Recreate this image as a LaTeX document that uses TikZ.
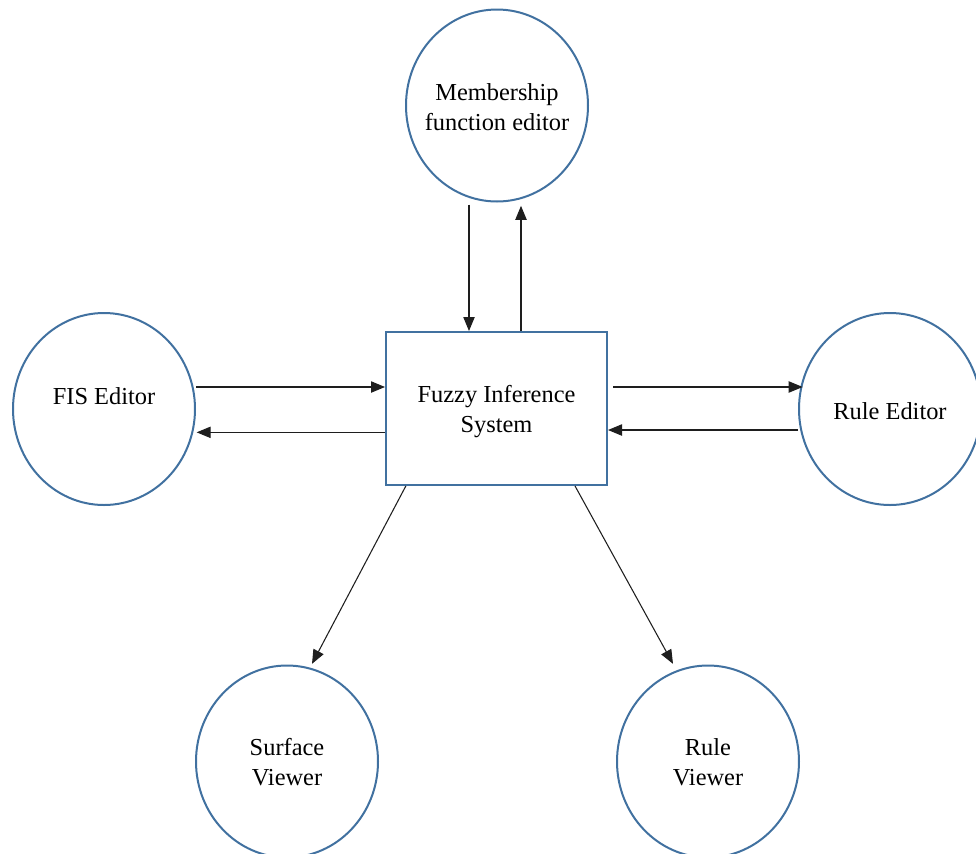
\documentclass[tikz,border=0pt]{standalone}
\usepackage{fontspec}
\setmainfont{Liberation Serif}
\usetikzlibrary{arrows.meta,shapes.geometric}
\definecolor{outline}{RGB}{65,113,160}
\definecolor{wire}{RGB}{30,30,30}
\tikzset{
  unit/.style={ellipse, draw=outline, line width=1.5pt, fill=white,
    minimum width=136.5pt, minimum height=144pt, inner sep=0pt},
  core/.style={rectangle, draw=outline, line width=1.5pt, fill=white,
    minimum width=165.75pt, minimum height=114.75pt, inner sep=0pt},
  lbl/.style={align=center, text=black, font=\fontsize{18.3}{22.5}\selectfont, inner sep=0pt},
  conn/.style={draw=wire, line width=0.8pt, -{Triangle[length=10.5pt,width=8.5pt]}},
}
\begin{document}
\begin{tikzpicture}[x=0.75pt, y=-0.75pt]
\useasboundingbox (0,0) rectangle (976,854);

% modules around the inference engine
\node[unit, label={[lbl, yshift=-1.5pt]center:Membership\\function editor}] (mem) at (497,105.5) {};
\node[unit, label={[lbl, yshift=9.75pt]center:FIS Editor}] (fis) at (104,409) {};
\node[unit, label={[lbl, yshift=-1.5pt]center:Rule Editor}] (ruled) at (890,409) {};
\node[unit, label={[lbl, yshift=-0.5pt]center:Surface\\Viewer}] (surf) at (287,761.5) {};
\node[unit, label={[lbl, yshift=-0.5pt]center:Rule\\Viewer}] (rview) at (708,761.5) {};

% central system
\node[core, label={[lbl, yshift=-2pt]center:Fuzzy Inference\\System}] (box) at (496.5,408.5) {};

% membership function editor <-> system
\draw[conn] ([xshift=-21pt,yshift=-1.5pt]mem.south) -- ([xshift=-21pt]mem.south |- box.north);
\draw[conn] ([xshift=18pt]mem.south |- box.north) -- ([xshift=18pt,yshift=-2.5pt]mem.south);

% FIS editor <-> system
\draw[conn] ([yshift=16.5pt]fis.east) -- ([yshift=16.5pt]fis.east -| box.west);
\draw[conn] ([yshift=-17.5pt]fis.east -| box.west) -- ([xshift=0.5pt,yshift=-17.5pt]fis.east);

% system <-> rule editor
\draw[conn] ([xshift=4pt,yshift=16.5pt]ruled.west -| box.east) -- ([xshift=3.5pt,yshift=16.5pt]ruled.west);
\draw[conn] ([yshift=-15.75pt]ruled.west) -- ([yshift=-15.75pt]ruled.west -| box.east);

% system -> viewers
\draw[conn] ([xshift=-68pt]box.south) -- ([xshift=18.75pt,yshift=0.5pt]surf.north);
\draw[conn] ([xshift=58.9pt]box.south) -- ([xshift=-26.25pt,yshift=0.5pt]rview.north);
\end{tikzpicture}
\end{document}
